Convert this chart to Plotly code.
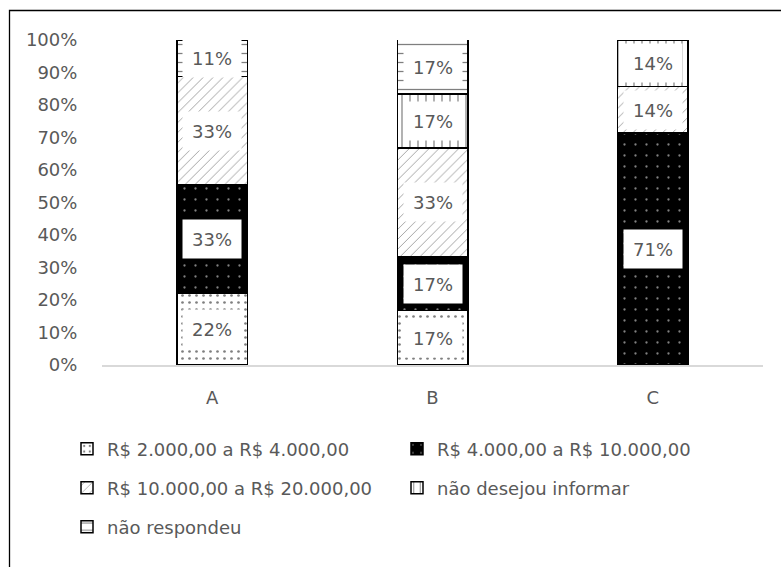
import plotly.graph_objects as go

categories = ["A", "B", "C"]
series_names = [
    "R$ 2.000,00 a R$ 4.000,00",
    "R$ 4.000,00 a R$ 10.000,00",
    "R$ 10.000,00 a R$ 20.000,00",
    "não desejou informar",
    "não respondeu",
]
# percent values per category (A, B, C)
v_2k_4k = [22.2, 16.7, None]
v_4k_10k = [33.3, 16.7, 71.4]
v_10k_20k = [33.3, 33.3, 14.3]
v_nao_desejou = [None, 16.7, 14.3]
v_nao_respondeu = [11.1, 16.7, None]
y_ticks = [0, 10, 20, 30, 40, 50, 60, 70, 80, 90, 100]

all_values = [v_2k_4k, v_4k_10k, v_10k_20k, v_nao_desejou, v_nao_respondeu]

FONT = "DejaVu Sans"
TXT = "#595959"
FS = 18

patterns = [
    dict(shape=".", fgcolor="black", bgcolor="white", size=7, solidity=0.12, fillmode="overlay"),
    dict(shape=".", fgcolor="white", bgcolor="black", size=11, solidity=0.035, fillmode="overlay"),
    dict(shape="/", fgcolor="black", bgcolor="white", size=7, solidity=0.1, fillmode="overlay"),
    dict(shape="|", fgcolor="black", bgcolor="white", size=8, solidity=0.15, fillmode="overlay"),
    dict(shape="-", fgcolor="black", bgcolor="white", size=9, solidity=0.14, fillmode="overlay"),
]
legend_ids = ["legend", "legend", "legend2", "legend2", "legend3"]

fig = go.Figure()
for name, vals, pat, lg in zip(series_names, all_values, patterns, legend_ids):
    fig.add_trace(go.Bar(
        x=categories,
        y=[None if v is None else v / 100 for v in vals],
        name=name,
        marker=dict(color="white", pattern=pat, line=dict(color="black", width=1.5)),
        legend=lg,
        hoverinfo="skip",
    ))

# data labels in white boxes at the middle of each segment
annotations = []
for ci, cat in enumerate(categories):
    base = 0.0
    for vals in all_values:
        v = vals[ci]
        if v is None:
            continue
        annotations.append(dict(
            x=cat, y=(base + v / 2) / 100, xref="x", yref="y",
            text=f"{round(v)}%", showarrow=False,
            font=dict(family=FONT, size=FS, color=TXT),
            bgcolor="white", borderpad=7, width=44, height=24,
        ))
        base += v

L, R, T, B = 102, 18, 40, 202
W, H = 781, 567
pw, ph = W - L - R, H - T - B

def px_x(p):
    return (p - L) / pw

def px_y(p):
    return (H - B - p) / ph

fig.update_layout(
    width=W, height=H,
    margin=dict(l=L, r=R, t=T, b=B),
    barmode="stack",
    bargap=0.68,
    paper_bgcolor="white",
    plot_bgcolor="white",
    font=dict(family=FONT, size=FS, color=TXT),
    annotations=annotations,
    xaxis=dict(
        showline=True, linecolor="#d9d9d9", linewidth=1.5,
        ticks="outside", ticklen=16, tickcolor="rgba(0,0,0,0)",
        tickfont=dict(family=FONT, size=FS, color=TXT),
        showgrid=False, zeroline=False,
    ),
    yaxis=dict(
        range=[0, 1],
        tickvals=[t / 100 for t in y_ticks],
        ticktext=[f"{t}%" for t in y_ticks],
        ticks="outside", ticklen=20, tickcolor="rgba(0,0,0,0)",
        tickfont=dict(family=FONT, size=FS, color=TXT),
        showgrid=False, zeroline=False, showline=False,
    ),
    shapes=[dict(
        type="rect", xref="paper", yref="paper",
        x0=px_x(9.5), x1=px_x(795), y0=px_y(580), y1=px_y(10.5),
        line=dict(color="black", width=1.3), fillcolor="rgba(0,0,0,0)", layer="below",
    )],
)

leg_common = dict(
    orientation="h", xanchor="left", yanchor="middle",
    entrywidth=285, entrywidthmode="pixels",
    font=dict(family=FONT, size=FS, color=TXT),
    bgcolor="rgba(0,0,0,0)", itemclick=False, itemdoubleclick=False,
    traceorder="normal",
)
fig.update_layout(
    legend=dict(x=px_x(67), y=px_y(449), **leg_common),
    legend2=dict(x=px_x(67), y=px_y(488), **leg_common),
    legend3=dict(x=px_x(67), y=px_y(527), **leg_common),
)

fig.write_html("out.html")
